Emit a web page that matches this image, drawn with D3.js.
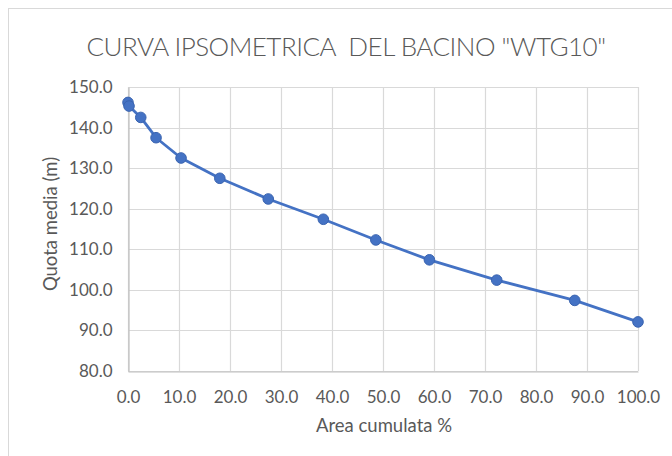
<!DOCTYPE html>
<html>
<head>
<meta charset="utf-8">
<script src="https://cdn.jsdelivr.net/npm/d3@7/dist/d3.min.js"></script>
<style>
  html, body { margin: 0; padding: 0; background: #fff; }
  svg { display: block; }
  text { font-family: Lato, "Open Sans", sans-serif; fill: #595959; }
</style>
</head>
<body>
<svg id="chart" width="672" height="456"></svg>
<script>
// Hypsometric curve: cumulative area (%) vs mean elevation (m)
const areaCum = [0.0, 0.2, 2.5, 5.5, 10.4, 18.0, 27.5, 38.3, 48.6, 59.1, 72.3, 87.6, 100.0];
const quota   = [146.2, 145.3, 142.5, 137.5, 132.5, 127.5, 122.4, 117.4, 112.3, 107.4, 102.4, 97.4, 92.1];
const xTicks = [0, 10, 20, 30, 40, 50, 60, 70, 80, 90, 100];
const yTicks = [80, 90, 100, 110, 120, 130, 140, 150];
const titleText = 'CURVA IPSOMETRICA\u00A0 DEL BACINO "WTG10"';
const xTitle = "Area cumulata %";
const yTitle = "Quota media (m)";

const points = areaCum.map((a, i) => ({ a, q: quota[i] }));

const svg = d3.select("#chart");
const W = 672, H = 456;
const plot = { left: 128, right: 638, top: 87, bottom: 371 };
const font = "Lato, 'Open Sans', sans-serif";

// chart frame
svg.append("rect").attr("x", 8.5).attr("y", 8.5).attr("width", W + 10).attr("height", H + 10)
  .attr("fill", "#fff").attr("stroke", "#d9d9d9").attr("stroke-width", 1);

const x = d3.scaleLinear().domain([0, 100]).range([plot.left, plot.right]);
const y = d3.scaleLinear().domain([80, 150]).range([plot.bottom, plot.top]);

// gridlines
const grid = svg.append("g");
grid.selectAll("line.v").data(xTicks).join("line")
  .attr("x1", d => Math.round(x(d)) + 0.5).attr("x2", d => Math.round(x(d)) + 0.5)
  .attr("y1", plot.top).attr("y2", plot.bottom)
  .attr("stroke", "#d9d9d9").attr("stroke-width", 1.2);
grid.selectAll("line.h").data(yTicks).join("line")
  .attr("y1", d => Math.round(y(d)) + 0.5).attr("y2", d => Math.round(y(d)) + 0.5)
  .attr("x1", plot.left).attr("x2", plot.right)
  .attr("stroke", "#d9d9d9").attr("stroke-width", 1.2);

// axes
const xAxis = d3.axisBottom(x).tickValues(xTicks).tickFormat(d3.format(".1f")).tickSize(0).tickPadding(19);
const yAxis = d3.axisLeft(y).tickValues(yTicks).tickFormat(d3.format(".1f")).tickSize(0).tickPadding(16);

const gx = svg.append("g").attr("transform", `translate(0,${plot.bottom + 0.5})`).call(xAxis);
gx.select(".domain").attr("stroke", "#bfbfbf").attr("stroke-width", 1.2);
gx.selectAll("text").attr("font-size", 17).attr("fill", "#595959").attr("font-family", font);

const gy = svg.append("g").attr("transform", `translate(${plot.left + 0.5},0)`).call(yAxis);
gy.select(".domain").attr("stroke", "#bfbfbf").attr("stroke-width", 1.2);
gy.selectAll("text").attr("font-size", 17).attr("fill", "#595959").attr("font-family", font);

// series
const line = d3.line().x(d => x(d.a)).y(d => y(d.q));
svg.append("path").datum(points).attr("d", line)
  .attr("fill", "none").attr("stroke", "#4472c4").attr("stroke-width", 2.8)
  .attr("stroke-linejoin", "round");
svg.append("g").selectAll("circle").data(points).join("circle")
  .attr("cx", d => x(d.a)).attr("cy", d => y(d.q)).attr("r", 5.3)
  .attr("fill", "#4472c4").attr("stroke", "#3a64b0").attr("stroke-width", 1);

// titles
svg.append("text").attr("x", 346).attr("y", 56).attr("text-anchor", "middle")
  .attr("font-size", 26).attr("font-weight", 300).attr("letter-spacing", -0.5)
  .attr("fill", "#595959").text(titleText);
svg.append("text").attr("x", 384).attr("y", 432).attr("text-anchor", "middle")
  .attr("font-size", 18.5).attr("fill", "#595959").text(xTitle);
svg.append("text").attr("transform", `translate(57,224) rotate(-90)`)
  .attr("text-anchor", "middle").attr("font-size", 18.5).attr("fill", "#595959").text(yTitle);
</script>
</body>
</html>
